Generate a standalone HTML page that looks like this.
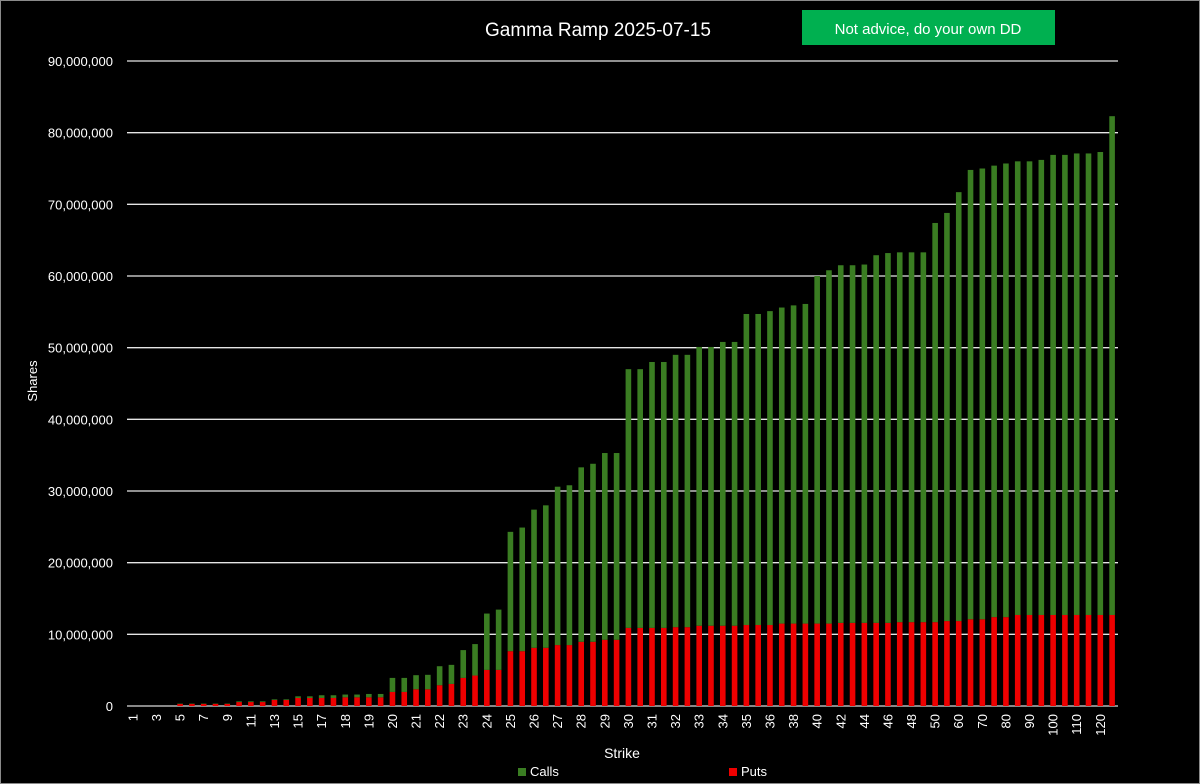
<!DOCTYPE html>
<html><head><meta charset="utf-8"><style>
html,body{margin:0;padding:0;background:#000;}
svg{display:block;font-family:"Liberation Sans",sans-serif;}
</style></head><body>
<svg id="chart" width="1200" height="784" viewBox="0 0 1200 784">
<rect x="0.5" y="0.5" width="1199" height="783" fill="#000" stroke="#8a8a8a"/>
<text x="598" y="36" fill="#fff" font-size="19" text-anchor="middle">Gamma Ramp 2025-07-15</text>
<rect x="802" y="10" width="253" height="35" fill="#00b050"/>
<text x="928" y="34" fill="#fff" font-size="15" text-anchor="middle">Not advice, do your own DD</text>
<g id="grid"></g>
<g id="yticks"></g>
<g id="bars"></g>
<g id="xticks"></g>
<text x="622" y="758" fill="#fff" font-size="14" text-anchor="middle">Strike</text>
<text transform="translate(37,381) rotate(-90)" fill="#fff" font-size="13" text-anchor="middle">Shares</text>
<g><rect x="518" y="768" width="8" height="8" fill="#3a7d22"/><text x="530" y="776" fill="#fff" font-size="13">Calls</text></g>
<g><rect x="729" y="768" width="8" height="8" fill="#ee0000"/><text x="741" y="776" fill="#fff" font-size="13">Puts</text></g>
</svg>
<script>
const categories = ["1","2","3","4","5","6","7","8","9","10","11","12","13","14","15","16","17","17.5","18","18.5","19","19.5","20","20.5","21","21.5","22","22.5","23","23.5","24","24.5","25","25.5","26","26.5","27","27.5","28","28.5","29","29.5","30","30.5","31","31.5","32","32.5","33","33.5","34","34.5","35","35.5","36","37","38","39","40","41","42","43","44","45","46","47","48","49","50","55","60","65","70","75","80","85","90","95","100","105","110","115","120","125"];
const totals = [0,0,0,0,0.35,0.35,0.35,0.35,0.35,0.65,0.65,0.65,0.93,0.93,1.35,1.35,1.5,1.5,1.6,1.6,1.68,1.68,3.92,3.92,4.3,4.35,5.55,5.74,7.8,8.64,12.9,13.45,24.3,24.9,27.4,28.0,30.6,30.8,33.3,33.8,35.3,35.3,47.0,47.0,48.0,48.0,49.0,49.0,50.1,50.1,50.8,50.8,54.7,54.7,55.1,55.6,55.9,56.1,60.0,60.8,61.5,61.5,61.6,62.9,63.2,63.3,63.3,63.3,67.4,68.8,71.7,74.8,75.0,75.4,75.7,76.0,76.0,76.2,76.9,76.9,77.1,77.1,77.3,82.3];
const puts = [0,0,0,0,0.3,0.3,0.3,0.3,0.3,0.55,0.55,0.55,0.84,0.84,1.12,1.12,1.12,1.12,1.21,1.21,1.21,1.21,1.96,1.96,2.33,2.33,2.9,3.08,3.92,4.25,5.04,5.04,7.65,7.65,8.12,8.12,8.5,8.5,8.96,8.96,9.24,9.24,10.9,10.9,10.9,10.9,11.0,11.0,11.2,11.2,11.2,11.2,11.3,11.3,11.3,11.5,11.5,11.5,11.5,11.5,11.6,11.6,11.6,11.6,11.6,11.7,11.7,11.7,11.7,11.85,11.85,12.1,12.1,12.4,12.4,12.7,12.7,12.7,12.7,12.7,12.7,12.7,12.7,12.7];
const yTicks = [0,10,20,30,40,50,60,70,80,90];
const yTickLabels = ["0","10,000,000","20,000,000","30,000,000","40,000,000","50,000,000","60,000,000","70,000,000","80,000,000","90,000,000"];

const NS="http://www.w3.org/2000/svg";
const X0=127, X1=1118, Y0=706, Y90=61;
const step=(X1-X0)/categories.length;
const y=v=>Y0-(v/90)*(Y0-Y90);
const xc=i=>X0+step*(i+0.5);
const bw=5.6;
function mk(tag,attrs,parent){const e=document.createElementNS(NS,tag);for(const k in attrs)e.setAttribute(k,attrs[k]);parent.appendChild(e);return e;}
const grid=document.getElementById('grid'),yt=document.getElementById('yticks'),bars=document.getElementById('bars'),xt=document.getElementById('xticks');
yTicks.forEach((t,i)=>{
  const l=mk('line',{x1:X0,x2:X1,y1:y(t),y2:y(t),stroke:t===0?'#d9d9d9':'#e6e6e6','stroke-width':1.3},grid);
  
  
  const tx=mk('text',{x:113,y:y(t)+5,fill:'#fff','font-size':13,'text-anchor':'end'},yt);
  tx.textContent=yTickLabels[i];
  
  
});
categories.forEach((c,i)=>{
  const cx=xc(i);
  const p=mk('rect',{x:cx-bw/2,y:y(puts[i]),width:bw,height:Y0-y(puts[i]),fill:'#ee0000'},bars);
  
  
  const cv=totals[i]-puts[i];
  const g=mk('rect',{x:cx-bw/2,y:y(totals[i]),width:bw,height:Math.max(0,y(puts[i])-y(totals[i])),fill:'#3a7d22'},bars);
  
  
  if(i%2===0){
    const t=mk('text',{transform:`translate(${cx+4.5},${714}) rotate(-90)`,fill:'#fff','font-size':13,'text-anchor':'end'},xt);
    t.textContent=c;
    
    
  }
});
</script>
</body></html>
